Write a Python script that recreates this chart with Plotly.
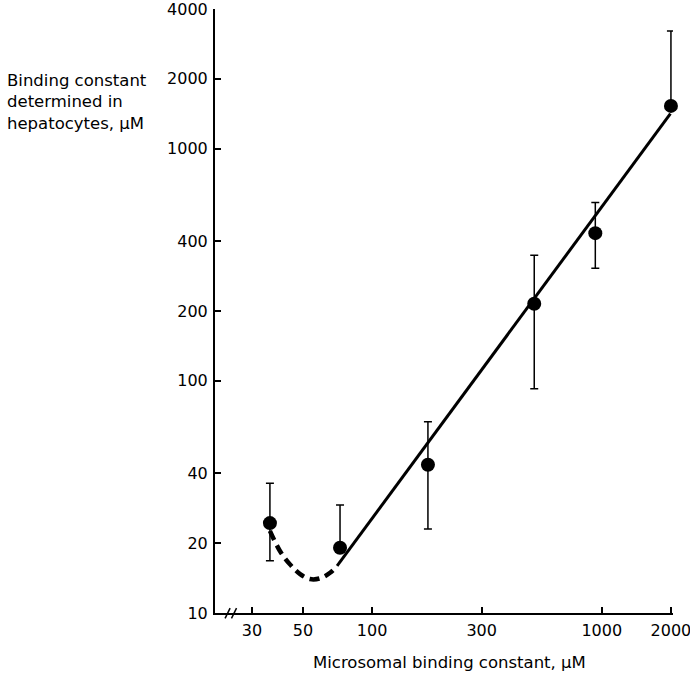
import plotly.graph_objects as go

# Data
micro_k = [35.9, 72.5, 175, 508, 937, 2000]
hep_k = [24.4, 19.1, 43.5, 215, 433, 1530]
err_plus = [36.2 - 24.4, 29.2 - 19.1, 66.6 - 43.5, 348 - 215, 587 - 433, 3220 - 1530]
err_minus = [24.4 - 16.8, 0, 43.5 - 23.0, 215 - 92.6, 433 - 306, 0]

fit_x = [70.4, 1990]
fit_y = [15.95, 1416]

dash_x = [35.9, 39.7, 43.9, 48.6, 53.7, 59.3, 65.6, 70.4]
dash_y = [22.6, 18.5, 16.2, 14.7, 14.0, 14.1, 14.9, 15.95]

x_ticks = [30, 50, 100, 300, 1000, 2000]
y_ticks = [10, 20, 40, 100, 200, 400, 1000, 2000, 4000]

FONT = "DejaVu Sans"

fig = go.Figure()
fig.add_trace(go.Scatter(x=dash_x, y=dash_y, mode="lines",
                         line=dict(color="black", width=4.5, dash="10px,6px", shape="spline"),
                         hoverinfo="skip", showlegend=False, cliponaxis=False))
fig.add_trace(go.Scatter(x=fit_x, y=fit_y, mode="lines",
                         line=dict(color="black", width=3),
                         showlegend=False, cliponaxis=False))
fig.add_trace(go.Scatter(x=micro_k, y=hep_k, mode="markers",
                         marker=dict(color="black", size=14),
                         error_y=dict(type="data", symmetric=False,
                                      array=err_plus, arrayminus=err_minus,
                                      color="black", thickness=1.5, width=4),
                         showlegend=False, cliponaxis=False))

fig.update_xaxes(type="log", range=[1.316, 3.310], tickvals=x_ticks,
                 ticktext=[str(v) for v in x_ticks], automargin=False,
                 ticklabeloverflow="allow",
                 showgrid=False, zeroline=False, showline=True,
                 linecolor="black", linewidth=2, ticks="inside", ticklen=6,
                 tickwidth=1.5, tickcolor="black", ticklabelstandoff=2,
                 tickfont=dict(family=FONT, size=16, color="black"))
fig.update_yaxes(type="log", range=[1, 3.6021], tickvals=y_ticks,
                 ticktext=[str(v) for v in y_ticks], automargin=False,
                 ticklabeloverflow="allow",
                 showgrid=False, zeroline=False, showline=True,
                 linecolor="black", linewidth=2, ticks="inside", ticklen=6,
                 tickwidth=1.5, tickcolor="black", ticklabelstandoff=2,
                 tickfont=dict(family=FONT, size=16, color="black"))

fig.add_annotation(text="Binding constant<br>determined in<br>hepatocytes, µM",
                   xref="paper", yref="paper", x=-0.459, y=0.9,
                   xanchor="left", yanchor="top", align="left", showarrow=False,
                   font=dict(family=FONT, size=16.5, color="black"))
fig.add_annotation(text="Microsomal binding constant, µM",
                   xref="paper", yref="paper", x=0.513, y=-0.0817,
                   xanchor="center", yanchor="middle", showarrow=False,
                   font=dict(family=FONT, size=16.5, color="black"))

# axis break marks
for x0 in [0.022, 0.036]:
    fig.add_shape(type="line", xref="paper", yref="paper",
                  x0=x0, y0=-0.009, x1=x0 + 0.011, y1=0.008,
                  line=dict(color="black", width=1.5))

fig.update_layout(width=690, height=674,
                  margin=dict(l=215, r=17, t=9, b=61, autoexpand=False),
                  paper_bgcolor="white", plot_bgcolor="white",
                  font=dict(family=FONT, color="black"))

fig.write_html("out.html", config={"displayModeBar": False},
               post_script="document.body.style.margin='0';")
